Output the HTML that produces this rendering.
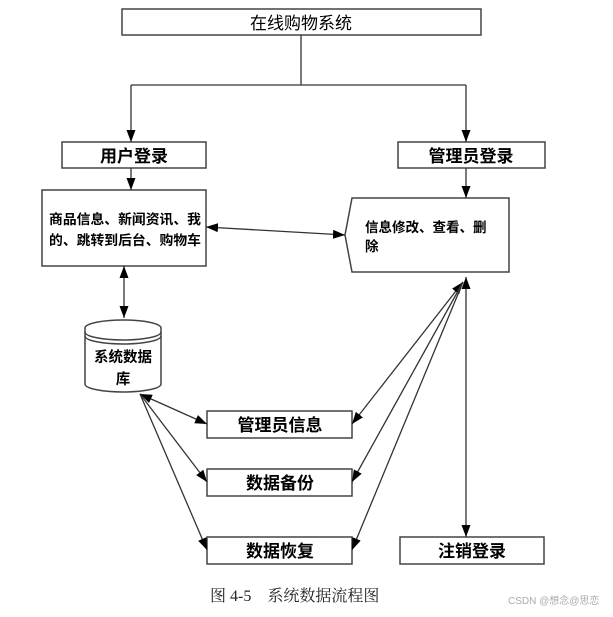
<!DOCTYPE html>
<html><head><meta charset="utf-8"><style>
body{margin:0;background:#fff;}
svg text{font-family:"Liberation Sans","Noto Sans CJK SC",sans-serif;}
</style></head><body>
<svg width="613" height="612" viewBox="0 0 613 612" xmlns="http://www.w3.org/2000/svg">
<defs>
<marker id="a" markerWidth="12" markerHeight="9" refX="12" refY="4.5" orient="auto-start-reverse" markerUnits="userSpaceOnUse">
<path d="M0,0 L12,4.5 L0,9 Z" fill="#000"/></marker>
</defs>
<g fill="#fff" stroke="#444" stroke-width="1.5">
<rect x="122" y="9" width="359" height="26"/>
<rect x="62" y="142" width="144" height="26"/>
<rect x="398" y="142" width="147" height="26"/>
<rect x="42" y="190" width="164" height="76"/>
<path d="M345,235 L352,198 L509,198 L509,272 L352,272 Z"/>
<rect x="207" y="411" width="145" height="27"/>
<rect x="207" y="469" width="145" height="27"/>
<rect x="207" y="537" width="145" height="27"/>
<rect x="400" y="537" width="144" height="27"/>
<path d="M85,328 A38,8 0 0 1 161,328 L161,384 A38,8 0 0 1 85,384 Z"/>
<path d="M85,332 A38,8 0 0 0 161,332 M85,336 A38,8 0 0 0 161,336" fill="none"/>
</g>
<g stroke="#333" stroke-width="1.3" fill="none">
<path d="M301,35 V85 M131,85 H466"/>
<path d="M131,85 V142" marker-end="url(#a)"/>
<path d="M466,85 V142" marker-end="url(#a)"/>
<path d="M131,168 V190" marker-end="url(#a)"/>
<path d="M466,168 V198" marker-end="url(#a)"/>
<path d="M206,227 L345,235" marker-start="url(#a)" marker-end="url(#a)"/>
<path d="M124,266 V318" marker-start="url(#a)" marker-end="url(#a)"/>
<path d="M466,277 V537" marker-start="url(#a)" marker-end="url(#a)"/>
<path d="M463,282 L352,424" marker-start="url(#a)" marker-end="url(#a)"/>
<path d="M463,282 L352,482" marker-end="url(#a)"/>
<path d="M463,282 L352,550" marker-end="url(#a)"/>
<path d="M140,394 L207,424" marker-start="url(#a)" marker-end="url(#a)"/>
<path d="M140,394 L207,482" marker-end="url(#a)"/>
<path d="M140,394 L207,550" marker-end="url(#a)"/>
</g>
<g font-size="17" text-anchor="middle" fill="#000">
<text x="301" y="29">在线购物系统</text>
<text x="134" y="162" font-weight="bold">用户登录</text>
<text x="471" y="162" font-weight="bold">管理员登录</text>
<text x="280" y="431" font-weight="bold">管理员信息</text>
<text x="280" y="489" font-weight="bold">数据备份</text>
<text x="280" y="557" font-weight="bold">数据恢复</text>
<text x="472" y="557" font-weight="bold">注销登录</text>
</g>
<g font-size="13.5" font-weight="bold" fill="#000">
<text x="49" y="224" textLength="152" lengthAdjust="spacingAndGlyphs">商品信息、新闻资讯、我</text>
<text x="49" y="245" textLength="152" lengthAdjust="spacingAndGlyphs">的、跳转到后台、购物车</text>
<text x="365" y="232">信息修改、查看、删</text>
<text x="365" y="251">除</text>
<text x="123" y="362" text-anchor="middle" font-size="14.5">系统数据</text>
<text x="123" y="384" text-anchor="middle" font-size="14.5">库</text>
</g>
<text x="210" y="601" font-size="16" fill="#222" style="font-family:'Liberation Serif','Noto Serif CJK SC',serif">图 4-5　系统数据流程图</text>
<text x="508" y="604" font-size="10" fill="#aaa">CSDN @想念@思恋</text>
</svg>
</body></html>
